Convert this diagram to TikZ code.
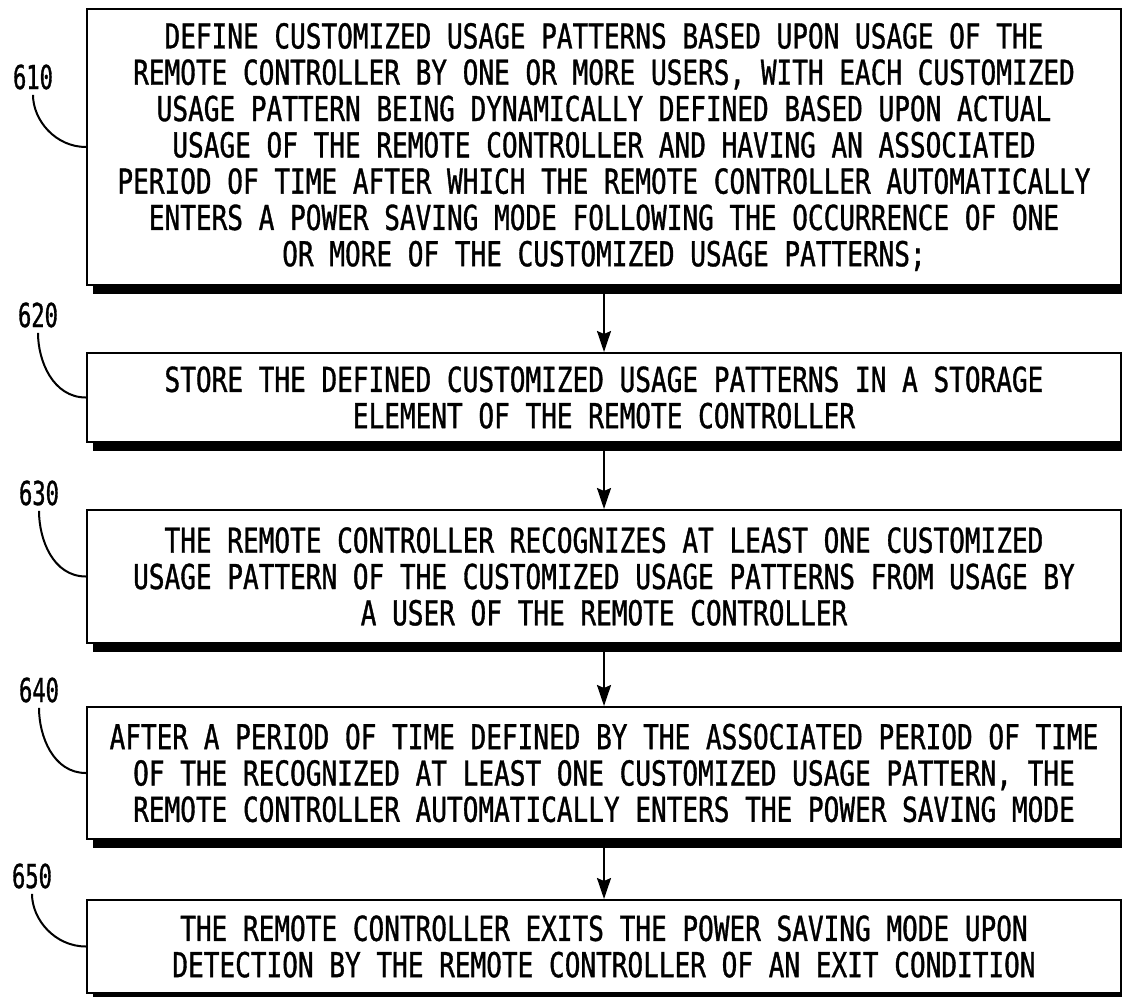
\documentclass[tikz,border=0pt]{standalone}
\usepackage{fontspec}
\setmainfont[FakeStretch=0.76,FakeBold=1]{DejaVu Sans Mono}
\newfontfamily\reffont[FakeStretch=0.67,FakeBold=1]{DejaVu Sans Mono}
\usepackage{tikz}
\usetikzlibrary{arrows.meta}

\begin{document}
\begin{tikzpicture}[x=.5pt,y=-.5pt,
  stepbox/.style={draw,line width=1pt,inner sep=0pt,align=center,minimum width=517pt,
    font=\fontsize{17.15}{18.15}\selectfont},
  reflabel/.style={inner sep=0pt,font=\reffont\fontsize{16.5}{17}\selectfont},
  leader/.style={line width=1pt,shorten <=2.5pt},
  flow/.style={line width=1pt,-{Stealth[length=10.5pt,width=7pt,inset=1.5pt]}}]
\useasboundingbox (0,0) rectangle (1122,996);
\node[stepbox,minimum height=138pt] (b610) at (604,147) {DEFINE CUSTOMIZED USAGE PATTERNS BASED UPON USAGE OF THE\\
REMOTE CONTROLLER BY ONE OR MORE USERS, WITH EACH CUSTOMIZED\\
USAGE PATTERN BEING DYNAMICALLY DEFINED BASED UPON ACTUAL\\
USAGE OF THE REMOTE CONTROLLER AND HAVING AN ASSOCIATED\\
PERIOD OF TIME AFTER WHICH THE REMOTE CONTROLLER AUTOMATICALLY\\
ENTERS A POWER SAVING MODE FOLLOWING THE OCCURRENCE OF ONE\\
OR MORE OF THE CUSTOMIZED USAGE PATTERNS;};
\node[stepbox,minimum height=44.5pt] (b620) at (604,397.5) {STORE THE DEFINED CUSTOMIZED USAGE PATTERNS IN A STORAGE\\
ELEMENT OF THE REMOTE CONTROLLER};
\node[stepbox,minimum height=66.5pt] (b630) at (604,576.5) {THE REMOTE CONTROLLER RECOGNIZES AT LEAST ONE CUSTOMIZED\\
USAGE PATTERN OF THE CUSTOMIZED USAGE PATTERNS FROM USAGE BY\\
A USER OF THE REMOTE CONTROLLER};
\node[stepbox,minimum height=66pt] (b640) at (604,773) {AFTER A PERIOD OF TIME DEFINED BY THE ASSOCIATED PERIOD OF TIME\\
OF THE RECOGNIZED AT LEAST ONE CUSTOMIZED USAGE PATTERN, THE\\
REMOTE CONTROLLER AUTOMATICALLY ENTERS THE POWER SAVING MODE};
\node[stepbox,minimum height=46.5pt] (b650) at (604,946.5) {THE REMOTE CONTROLLER EXITS THE POWER SAVING MODE UPON\\
DETECTION BY THE REMOTE CONTROLLER OF AN EXIT CONDITION};
\foreach \b in {b610,b620,b630,b640,b650}
  \fill ([xshift=3.5pt]\b.south west) rectangle ([xshift=3.5pt,yshift=-4pt]\b.south east);
\node[reflabel] (l610) at (33,77) {610};
\node[reflabel] (l620) at (38,315) {620};
\node[reflabel] (l630) at (39,493) {630};
\node[reflabel] (l640) at (39,690) {640};
\node[reflabel] (l650) at (32,876) {650};
\draw[leader] (l610.south) to[out=-90,in=180] (b610.west);
\draw[leader] (l620.south) to[out=-90,in=180] (b620.west);
\draw[leader] (l630.south) to[out=-90,in=180] (b630.west);
\draw[leader] (l640.south) to[out=-90,in=180] (b640.west);
\draw[leader] (l650.south) to[out=-90,in=180] (b650.west);
\draw[flow] (b610) -- (b620);
\draw[flow] (b620) -- (b630);
\draw[flow] (b630) -- (b640);
\draw[flow] (b640) -- (b650);
\end{tikzpicture}
\end{document}
